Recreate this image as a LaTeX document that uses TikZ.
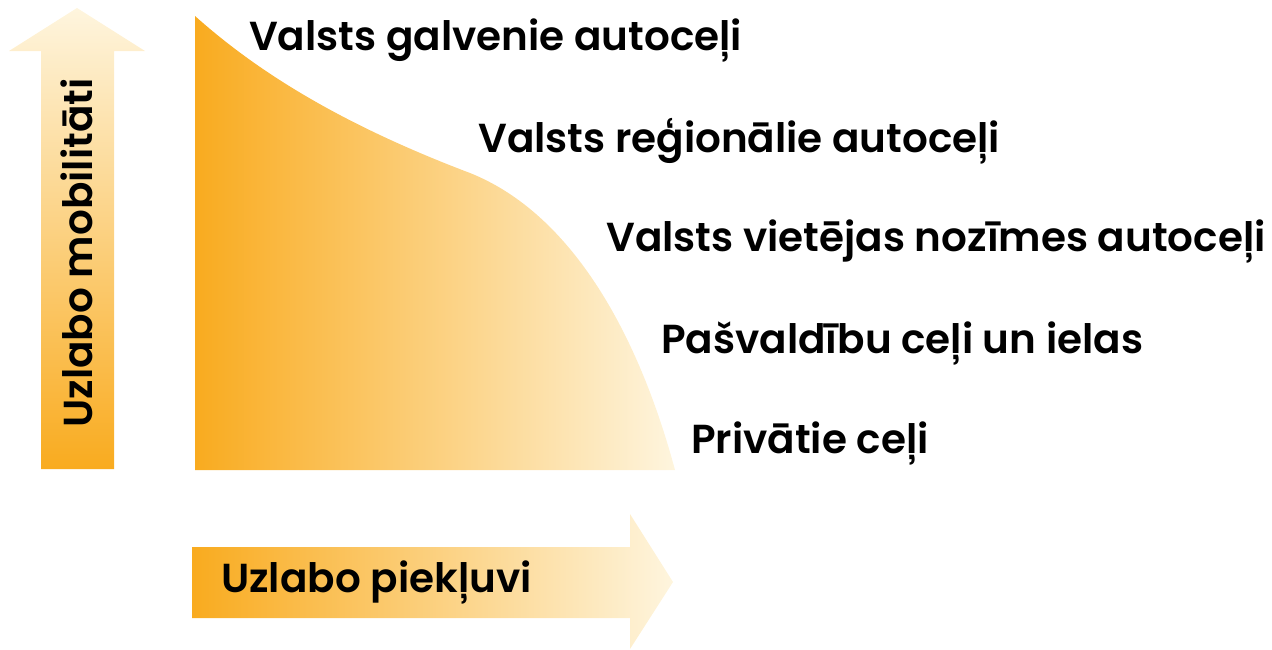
\documentclass[tikz,border=0pt]{standalone}
\usepackage{fontspec}
\setmainfont{Poppins}[BoldFont={Poppins SemiBold}]
\definecolor{deeporange}{HTML}{F9AB1F}
\definecolor{paleorange}{HTML}{FEF5DE}
\begin{document}
\begin{tikzpicture}[x=1pt,y=-1pt,
  lbl/.style={anchor=west,inner sep=0pt,font=\fontsize{40.5}{44}\selectfont\bfseries},
]
\useasboundingbox (0,0) rectangle (1272,649);
% area under curve
\shade[left color=deeporange,right color=paleorange]
  (195,16) .. controls (250,65) and (330,120) .. (470,173)
  .. controls (575,215) and (640,340) .. (675,470)
  -- (195,470) -- cycle;
% vertical arrow
\shade[bottom color=deeporange,top color=paleorange]
  (41,469) -- (41,51) -- (9,51) -- (77,8) -- (145,51) -- (114,51) -- (114,469) -- cycle;
% horizontal arrow
\shade[left color=deeporange,right color=paleorange]
  (192,547) -- (630,547) -- (630,514) -- (673,582) -- (630,649) -- (630,618) -- (192,618) -- cycle;
\node[lbl] (t1) at (249,40) {Valsts galvenie autoceļi};
\node[lbl] (t2) at (478,141) {Valsts reģionālie autoceļi};
\node[lbl] (t3) at (606,241) {Valsts vietējas nozīmes autoceļi};
\node[lbl] (t4) at (661,343) {Pašvaldību ceļi un ielas};
\node[lbl] (t5) at (691,443) {Privātie ceļi};
\node[lbl] (t6) at (221,582) {Uzlabo piekļuvi};
\node[lbl,anchor=center,rotate=90] (t7) at (77,253) {Uzlabo mobilitāti};
\end{tikzpicture}
\end{document}
